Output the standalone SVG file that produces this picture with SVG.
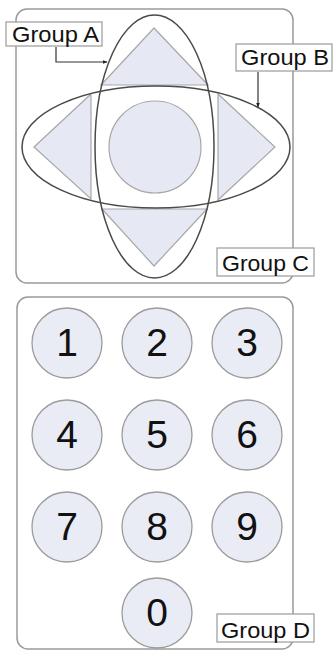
<svg xmlns="http://www.w3.org/2000/svg" width="334" height="652" viewBox="0 0 334 652">
<style>
.panel{fill:#ffffff;stroke:#9a9a9a;stroke-width:1.5}
.grp{fill:none;stroke:#4a4a4a;stroke-width:1.5}
.shape{fill:#e6e9f4;stroke:#a8a8a8;stroke-width:1.2}
.key{fill:#e9ebf5;stroke:#9c9c9c;stroke-width:1.3}
.lbl{fill:#ffffff;stroke:#9a9a9a;stroke-width:1.2}
.lt{font-family:"Liberation Sans",Arial,sans-serif;font-size:21.5px;fill:#111}
.dg{font-family:"Liberation Sans",Arial,sans-serif;font-size:39px;fill:#111;text-anchor:middle}
.con{fill:none;stroke:#333;stroke-width:1.2}
</style>
<defs>
<marker id="arr" viewBox="0 0 10 10" refX="9" refY="5" markerWidth="5" markerHeight="5" orient="auto" markerUnits="userSpaceOnUse">
<path d="M0,1 L10,5 L0,9 z" fill="#222"/>
</marker>
</defs>
<rect id="panel-top" class="panel" x="16" y="9" width="277" height="274" rx="11"/>
<rect id="panel-bottom" class="panel" x="17" y="297" width="276" height="352" rx="11"/>
<g id="dpad">
<polygon class="shape" points="154,28 101,85 208,85"/>
<polygon class="shape" points="102,209 207,209 154,266"/>
<polygon class="shape" points="34,147 91,94 91,199"/>
<polygon class="shape" points="218,94 218,200 275,147"/>
<circle class="shape" cx="155" cy="147" r="46"/>
</g>
<g id="group-a"><ellipse class="grp" cx="154.5" cy="146.5" rx="59.5" ry="131.5"/></g>
<g id="group-b"><ellipse class="grp" cx="156" cy="147" rx="134" ry="61"/></g>
<g id="keys">
<g id="k1"><circle class="key" cx="67" cy="343" r="35"/><text class="dg" x="67" y="356">1</text></g>
<g id="k2"><circle class="key" cx="157" cy="343" r="35"/><text class="dg" x="157" y="356">2</text></g>
<g id="k3"><circle class="key" cx="247" cy="343" r="35"/><text class="dg" x="247" y="356">3</text></g>
<g id="k4"><circle class="key" cx="67" cy="435" r="35"/><text class="dg" x="67" y="448">4</text></g>
<g id="k5"><circle class="key" cx="157" cy="435" r="35"/><text class="dg" x="157" y="448">5</text></g>
<g id="k6"><circle class="key" cx="247" cy="435" r="35"/><text class="dg" x="247" y="448">6</text></g>
<g id="k7"><circle class="key" cx="67" cy="527" r="35"/><text class="dg" x="67" y="540">7</text></g>
<g id="k8"><circle class="key" cx="157" cy="527" r="35"/><text class="dg" x="157" y="540">8</text></g>
<g id="k9"><circle class="key" cx="247" cy="527" r="35"/><text class="dg" x="247" y="540">9</text></g>
<g id="k0"><circle class="key" cx="157" cy="613" r="35"/><text class="dg" x="157" y="626">0</text></g>
</g>
<g id="connectors">
<polyline class="con" points="56,47 56,62 107,62" marker-end="url(#arr)"/>
<polyline class="con" points="258,72 258,107" marker-end="url(#arr)"/>
</g>
<g id="label-a"><rect class="lbl" x="6" y="22" width="96" height="24"/><text class="lt" x="12" y="42" textLength="87" lengthAdjust="spacingAndGlyphs">Group A</text></g>
<g id="label-b"><rect class="lbl" x="236" y="44" width="96" height="27"/><text class="lt" x="241" y="65" textLength="88" lengthAdjust="spacingAndGlyphs">Group B</text></g>
<g id="label-c"><rect class="lbl" x="217" y="248" width="97" height="28"/><text class="lt" x="222" y="271" textLength="87" lengthAdjust="spacingAndGlyphs">Group C</text></g>
<g id="label-d"><rect class="lbl" x="217" y="614" width="97" height="28"/><text class="lt" x="221" y="638" textLength="89" lengthAdjust="spacingAndGlyphs">Group D</text></g>
</svg>
